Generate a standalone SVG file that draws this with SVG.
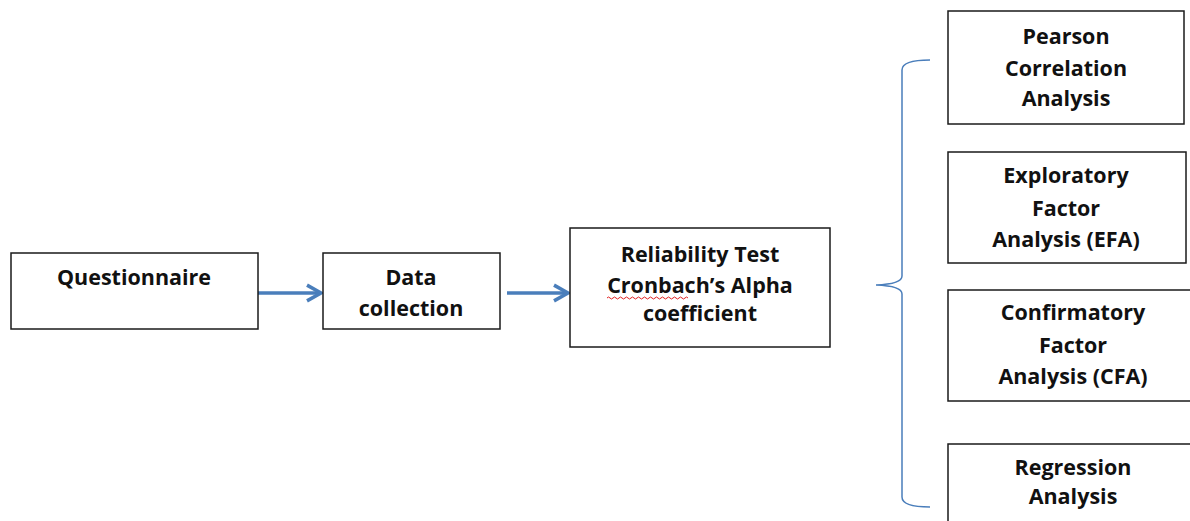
<svg xmlns="http://www.w3.org/2000/svg" width="1190" height="521" viewBox="0 0 1190 521">
<style>
.box{fill:#fff;stroke:#1a1a1a;stroke-width:1.5}
.t{font-family:"Open Sans","Liberation Sans",sans-serif;font-weight:700;font-size:21.5px;fill:#111;text-anchor:middle}
.conn{stroke:#4a7ebb;stroke-width:3.5;fill:none}
.brace{stroke:#4a7ebb;stroke-width:1.5;fill:none}
</style>
<defs>
<marker id="ah" viewBox="0 0 12 12" refX="10" refY="6" markerWidth="6" markerHeight="6" markerUnits="strokeWidth" orient="auto">
<path d="M2,1.5 L10,6 L2,10.5" fill="none" stroke="#4a7ebb" stroke-width="2" stroke-linejoin="miter"/>
</marker>
</defs>
<rect width="1190" height="521" fill="#fff"/>
<g id="connectors">
<line class="conn" x1="258" y1="293" x2="321" y2="293" marker-end="url(#ah)"/>
<line class="conn" x1="507" y1="293" x2="568" y2="293" marker-end="url(#ah)"/>
<path class="brace" d="M930,60 Q902,60 902,70 L902,276 Q902,284 876,285 Q902,286 902,294 L902,497 Q902,507 930,507"/>
</g>
<g id="questionnaire">
<rect class="box" x="11" y="253" width="247" height="76"/>
<text class="t" x="134" y="285">Questionnaire</text>
</g>
<g id="data-collection">
<rect class="box" x="323" y="253" width="177" height="76"/>
<text class="t" x="411" y="285">Data</text>
<text class="t" x="411" y="316">collection</text>
</g>
<g id="reliability">
<rect class="box" x="570" y="228" width="260" height="119"/>
<text class="t" x="700" y="262">Reliability Test</text>
<text class="t" x="700" y="293">Cronbach’s Alpha</text>
<text class="t" x="700" y="321">coefficient</text>
<path d="M607,298 q1.5,-2 3,0 t3,0 t3,0 t3,0 t3,0 t3,0 t3,0 t3,0 t3,0 t3,0 t3,0 t3,0 t3,0 t3,0 t3,0 t3,0 t3,0 t3,0 t3,0 t3,0 t3,0 t3,0 t3,0 t3,0 t3,0 t3,0 t3,0" fill="none" stroke="#e02020" stroke-width="1"/>
</g>
<g id="pearson">
<rect class="box" x="948" y="11" width="236" height="113"/>
<text class="t" x="1066" y="44">Pearson</text>
<text class="t" x="1066" y="76">Correlation</text>
<text class="t" x="1066" y="106">Analysis</text>
</g>
<g id="efa">
<rect class="box" x="948" y="152" width="238" height="111"/>
<text class="t" x="1066" y="183">Exploratory</text>
<text class="t" x="1066" y="216">Factor</text>
<text class="t" x="1066" y="247">Analysis (EFA)</text>
</g>
<g id="cfa">
<rect class="box" x="948" y="290" width="246" height="111"/>
<text class="t" x="1073" y="320">Confirmatory</text>
<text class="t" x="1073" y="353">Factor</text>
<text class="t" x="1073" y="384">Analysis (CFA)</text>
</g>
<g id="regression">
<rect class="box" x="948" y="444" width="246" height="90"/>
<text class="t" x="1073" y="475">Regression</text>
<text class="t" x="1073" y="504">Analysis</text>
</g>
</svg>
